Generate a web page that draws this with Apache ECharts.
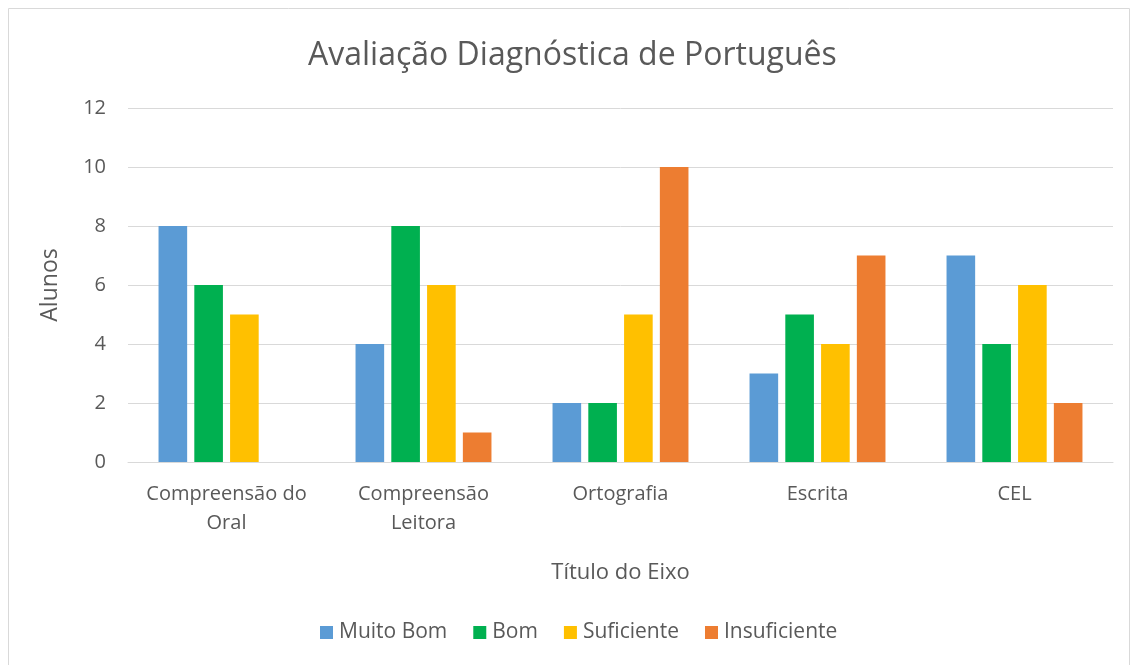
<!DOCTYPE html>
<html>
<head>
<meta charset="utf-8">
<script src="https://cdn.jsdelivr.net/npm/echarts@6/dist/echarts.min.js"></script>
<style>
  html, body { margin: 0; padding: 0; background: #fff; }
  #chart { width: 1131px; height: 665px; }
</style>
</head>
<body>
<div id="chart"></div>
<script>
  // dados
  var categories = ['Compreensão do\nOral', 'Compreensão\nLeitora', 'Ortografia', 'Escrita', 'CEL'];
  var muitoBom = [8, 4, 2, 3, 7];
  var bom = [6, 8, 2, 5, 4];
  var suficiente = [5, 6, 5, 4, 6];
  var insuficiente = [0, 1, 10, 7, 2];

  var font = 'Open Sans';
  var txt = '#595959';

  var chart = echarts.init(document.getElementById('chart'));
  chart.setOption({
    animation: false,
    textStyle: { fontFamily: font, color: txt },
    color: ['#5b9bd5', '#00b050', '#ffc000', '#ed7d31'],
    title: {
      text: 'Avaliação Diagnóstica de Português',
      left: 303,
      top: 35,
      textStyle: { fontFamily: font, fontSize: 32, fontWeight: 'normal', color: txt }
    },
    graphic: [{
      type: 'rect',
      shape: { x: 8.5, y: 8.5, width: 1121, height: 670 },
      style: { fill: 'none', stroke: '#d9d9d9', lineWidth: 1 },
      silent: true
    }],
    legend: {
      bottom: 17,
      left: 315,
      icon: 'rect',
      itemWidth: 13,
      itemHeight: 13,
      itemGap: 26,
      itemStyle: { borderWidth: 0 },
      textStyle: { fontFamily: font, fontSize: 21, color: txt, padding: [0, 0, 0, 1] }
    },
    grid: { left: 128, right: 18, top: 108, bottom: 203 },
    xAxis: {
      type: 'category',
      data: categories,
      name: 'Título do Eixo',
      nameLocation: 'middle',
      nameGap: 100,
      nameTextStyle: { fontFamily: font, fontSize: 22, color: txt },
      axisLine: { lineStyle: { color: '#d9d9d9', width: 1 } },
      axisTick: { show: false },
      axisLabel: { fontFamily: font, fontSize: 20, color: txt, margin: 18, lineHeight: 29, interval: 0 }
    },
    yAxis: {
      type: 'value',
      min: 0,
      max: 12,
      interval: 2,
      name: 'Alunos',
      nameLocation: 'middle',
      nameGap: 66,
      nameRotate: 90,
      nameTextStyle: { fontFamily: font, fontSize: 23, color: txt },
      axisLine: { show: false },
      axisTick: { show: false },
      axisLabel: { fontFamily: font, fontSize: 20, color: txt, margin: 22 },
      splitLine: { lineStyle: { color: '#d9d9d9', width: 1 } }
    },
    series: [
      { name: 'Muito Bom', type: 'bar', data: muitoBom, barGap: '25%', barCategoryGap: '31%' },
      { name: 'Bom', type: 'bar', data: bom, barGap: '25%', barCategoryGap: '31%' },
      { name: 'Suficiente', type: 'bar', data: suficiente, barGap: '25%', barCategoryGap: '31%' },
      { name: 'Insuficiente', type: 'bar', data: insuficiente, barGap: '25%', barCategoryGap: '31%' }
    ]
  });
</script>
</body>
</html>
